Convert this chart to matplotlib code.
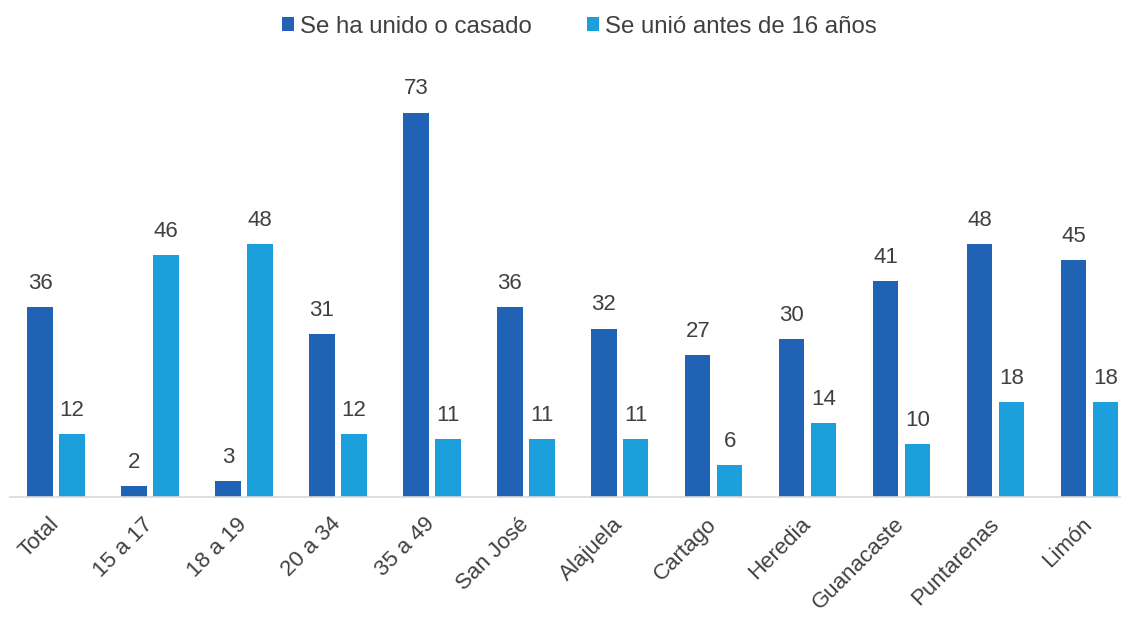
import matplotlib
matplotlib.use("Agg")
import matplotlib.pyplot as plt
import numpy as np

categories = ["Total", "15 a 17", "18 a 19", "20 a 34", "35 a 49", "San José",
              "Alajuela", "Cartago", "Heredia", "Guanacaste", "Puntarenas", "Limón"]
unido = [36, 2, 3, 31, 73, 36, 32, 27, 30, 41, 48, 45]
antes16 = [12, 46, 48, 12, 11, 11, 11, 6, 14, 10, 18, 18]
series_names = ["Se ha unido o casado", "Se unió antes de 16 años"]

plt.rcParams['font.family'] = ['Liberation Sans', 'DejaVu Sans']
dark = '#2062b4'
light = '#1ba0dc'
txt = '#404040'

fig = plt.figure(figsize=(11.23, 6.22), dpi=100)
ax = fig.add_axes([0.009, 0.201, 0.988, 0.7025])

x = np.arange(len(categories))
w = 0.27
off = 0.17
b1 = ax.bar(x - off, unido, w, color=dark, label=series_names[0])
b2 = ax.bar(x + off, antes16, w, color=light, label=series_names[1])

for bars, vals in ((b1, unido), (b2, antes16)):
    for r, v in zip(bars, vals):
        ax.annotate(str(v), (r.get_x() + r.get_width() / 2, v), xytext=(0, 9.5),
                    textcoords='offset points', ha='center', va='bottom',
                    fontsize=16, color=txt)

ax.set_xlim(-0.49, 11.32)
ax.set_ylim(0, 83)
for s in ['top', 'right', 'left']:
    ax.spines[s].set_visible(False)
ax.spines['bottom'].set_color('#d9d9d9')
ax.spines['bottom'].set_linewidth(1.2)
ax.set_yticks([])
ax.set_xticks(x - 0.08)
ax.set_xticklabels(categories, rotation=45, ha='right', rotation_mode='anchor',
                   fontsize=16, color=txt)
ax.tick_params(axis='x', length=0, pad=12)

fig.legend(handles=[b1, b2], labels=series_names, loc='center', bbox_to_anchor=(0.516, 0.957),
           ncol=2, frameon=False, fontsize=17.3, handlelength=0.5, handleheight=0.5,
           handletextpad=0.25, columnspacing=2.3, labelcolor=txt)

fig.savefig("out.png", dpi=100)
